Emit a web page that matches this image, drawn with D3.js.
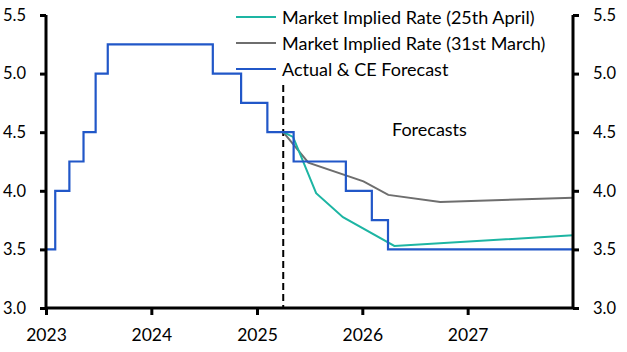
<!DOCTYPE html>
<html>
<head>
<meta charset="utf-8">
<script src="https://cdn.jsdelivr.net/npm/d3@7"></script>
<style>
  body { margin: 0; background: #fff; }
  svg text { font-family: Lato, "Open Sans", sans-serif; fill: #000; }
</style>
</head>
<body>
<div id="chart"></div>
<script>
// Bank rate, actual and CE forecast (step changes)
const actualDates = ["2023-01-01", "2023-02-02", "2023-03-23", "2023-05-11", "2023-06-22", "2023-08-03",
    "2024-08-01", "2024-11-07", "2025-02-06", "2025-05-08", "2025-11-05", "2026-02-03", "2026-03-31", "2028-01-01"];
const actualValues = [3.5, 4.0, 4.25, 4.5, 5.0, 5.25, 5.0, 4.75, 4.5, 4.25, 4.0, 3.75, 3.5, 3.5];

// Market implied rate (25th April)
const aprilDates = ["2025-04-02", "2025-05-06", "2025-07-25", "2025-10-26", "2026-04-22", "2028-01-01"];
const aprilValues = [4.5, 4.46, 3.98, 3.775, 3.53, 3.62];

// Market implied rate (31st March)
const marchDates = ["2025-04-02", "2025-06-28", "2026-01-05", "2026-04-01", "2026-09-28", "2028-01-01"];
const marchValues = [4.5, 4.24, 4.08, 3.965, 3.905, 3.94];

const forecastStart = "2025-04-02";
const yearTicks = [2023, 2024, 2025, 2026, 2027];
const yTicks = [3.0, 3.5, 4.0, 4.5, 5.0, 5.5];

const legendItems = [
    { name: "Market Implied Rate (25th April)", color: "#1DB5A3" },
    { name: "Market Implied Rate (31st March)", color: "#6E6E6E" },
    { name: "Actual & CE Forecast", color: "#2157C8" }
];

const width = 627, height = 352;
const margin = { top: 15, right: 54, bottom: 44, left: 46 };

const svg = d3.select("#chart").append("svg")
    .attr("width", width)
    .attr("height", height);

const parse = d3.timeParse("%Y-%m-%d");

const x = d3.scaleTime()
    .domain([new Date(2023, 0, 1), new Date(2028, 0, 1)])
    .range([margin.left, width - margin.right]);

const y = d3.scaleLinear()
    .domain([3.0, 5.5])
    .range([height - margin.bottom, margin.top]);

const toPoints = (dates, values) => dates.map((d, i) => ({ date: parse(d), value: values[i] }));

const lineStep = d3.line().x(d => x(d.date)).y(d => y(d.value)).curve(d3.curveStepAfter);
const lineStraight = d3.line().x(d => x(d.date)).y(d => y(d.value));

// forecast divider
svg.append("line")
    .attr("x1", x(parse(forecastStart))).attr("x2", x(parse(forecastStart)))
    .attr("y1", 85).attr("y2", y(3.0))
    .attr("stroke", "#000")
    .attr("stroke-width", 2)
    .attr("stroke-dasharray", "7,4");

svg.append("path")
    .datum(toPoints(marchDates, marchValues))
    .attr("d", lineStraight)
    .attr("fill", "none")
    .attr("stroke", legendItems[1].color)
    .attr("stroke-width", 2);

svg.append("path")
    .datum(toPoints(aprilDates, aprilValues))
    .attr("d", lineStraight)
    .attr("fill", "none")
    .attr("stroke", legendItems[0].color)
    .attr("stroke-width", 2);

svg.append("path")
    .datum(toPoints(actualDates, actualValues))
    .attr("d", lineStep)
    .attr("fill", "none")
    .attr("stroke", legendItems[2].color)
    .attr("stroke-width", 2.2);

// axes
const leftAxis = svg.append("g")
    .attr("transform", `translate(${margin.left},0)`)
    .call(d3.axisLeft(y).tickValues(yTicks).tickFormat(d3.format(".1f")).tickSize(6).tickPadding(14));

const rightAxis = svg.append("g")
    .attr("transform", `translate(${width - margin.right},0)`)
    .call(d3.axisRight(y).tickValues(yTicks).tickFormat(d3.format(".1f")).tickSize(6).tickPadding(14));

const bottomAxis = svg.append("g")
    .attr("transform", `translate(0,${height - margin.bottom})`)
    .call(d3.axisBottom(x)
        .tickValues(yearTicks.map(yr => new Date(yr, 0, 1)))
        .tickFormat(d3.timeFormat("%Y"))
        .tickSize(7).tickPadding(14));

[leftAxis, rightAxis, bottomAxis].forEach(g => {
    g.select(".domain").attr("stroke", "#000").attr("stroke-width", 3);
    g.selectAll(".tick line").attr("stroke", "#000").attr("stroke-width", 3);
    g.selectAll(".tick text").attr("font-size", 16.5).attr("font-family", "Lato, sans-serif").attr("fill", "#000");
});
bottomAxis.selectAll(".tick text").attr("font-size", 17.5);
leftAxis.select(".domain").attr("d", `M0,${y(5.5)}V${y(3.0)}`);
rightAxis.select(".domain").attr("d", `M0,${y(5.5)}V${y(3.0)}`);
bottomAxis.select(".domain").attr("d", `M${margin.left},0H${width - margin.right}`);

// legend
const legend = svg.append("g").attr("transform", "translate(236,17)");
legendItems.forEach((item, i) => {
    const row = legend.append("g").attr("transform", `translate(0,${i * 26})`);
    row.append("line")
        .attr("x1", 0).attr("x2", 40)
        .attr("stroke", item.color)
        .attr("stroke-width", 2);
    row.append("text")
        .attr("x", 46).attr("y", 6.5)
        .attr("font-size", 18)
        .text(item.name);
});

svg.append("text")
    .attr("x", 392).attr("y", 136)
    .attr("font-size", 18)
    .text("Forecasts");
</script>
</body>
</html>
